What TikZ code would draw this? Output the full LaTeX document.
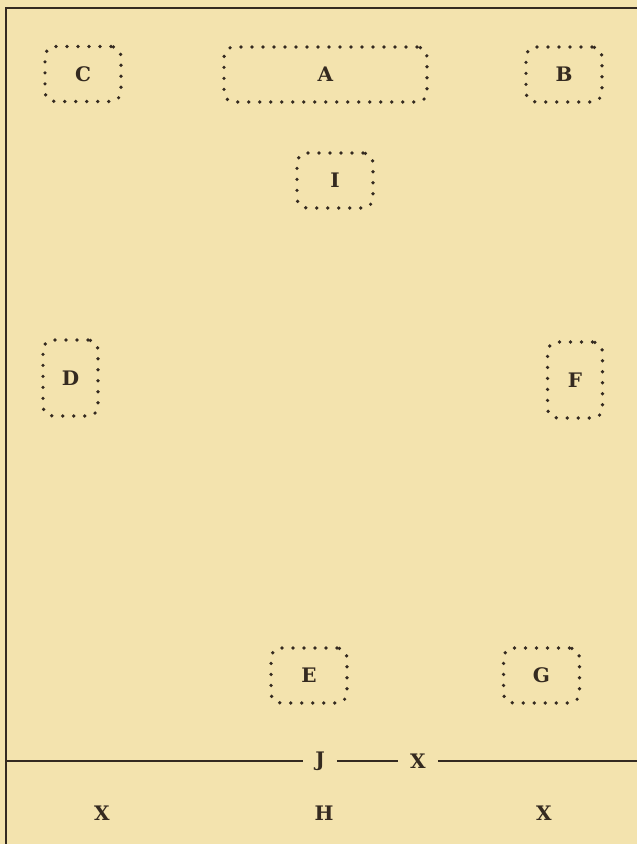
\documentclass[tikz,border=0pt]{standalone}
\usepackage{fontspec}
\setmainfont{DejaVu Serif}
\usepackage{xcolor}
\usepackage{tikz}

\definecolor{paper}{RGB}{243,227,174}
\definecolor{ink}{RGB}{52,42,32}

\begin{document}
\begin{tikzpicture}[
  x=1pt, y=-1pt,
  lbl/.style={font=\bfseries\fontsize{20}{22}\selectfont, text=ink, inner sep=0pt},
  dbox/.style={lbl, rectangle, rounded corners=10pt, draw=ink, line width=3.7pt,
               line cap=round, dash pattern=on 0pt off 11pt,
               minimum width=76pt, minimum height=55pt},
  tbox/.style={dbox, minimum width=55pt, minimum height=76pt},
  gap/.style={lbl, inner xsep=12pt, inner ysep=0pt},
  rule/.style={draw=ink, line width=2pt},
]

%% ---- paper ----
\fill[paper] (0,0) rectangle (637,844);
\useasboundingbox (0,0) rectangle (637,844);

%% ---- frame ----
\coordinate (fbl) at (6,844);
\coordinate (ftl) at (6,8);
\coordinate (ftr) at (637,8);
\draw[rule] (fbl) -- (ftl) -- (ftr);

%% ---- top row ----
\node[dbox] (C) at (83,74) {C};
\node[dbox, minimum width=203pt] (A) at (325.5,74.5) {A};
\node[dbox] (B) at (564,74.5) {B};
\node[dbox] (I) at (335,180.5) {I};

%% ---- sides ----
\node[tbox] (D) at (70.5,378) {D};
\node[tbox] (F) at (575,380) {F};

%% ---- lower row ----
\node[dbox] (E) at (309,675.5) {E};
\node[dbox] (G) at (541.5,675.5) {G};

%% ---- base line ----
\coordinate (rl) at (6,761);
\coordinate (rr) at (637,761);
\node[gap] (J) at (320,761) {J};
\node[gap] (X) at (418,761) {X};
\draw[rule] (rl) -- (J);
\draw[rule] (J) -- (X);
\draw[rule] (X) -- (rr);

\node[lbl] (xl) at (102,813) {X};
\node[lbl] (H)  at (324,813) {H};
\node[lbl] (xr) at (544,813) {X};

\end{tikzpicture}
\end{document}
